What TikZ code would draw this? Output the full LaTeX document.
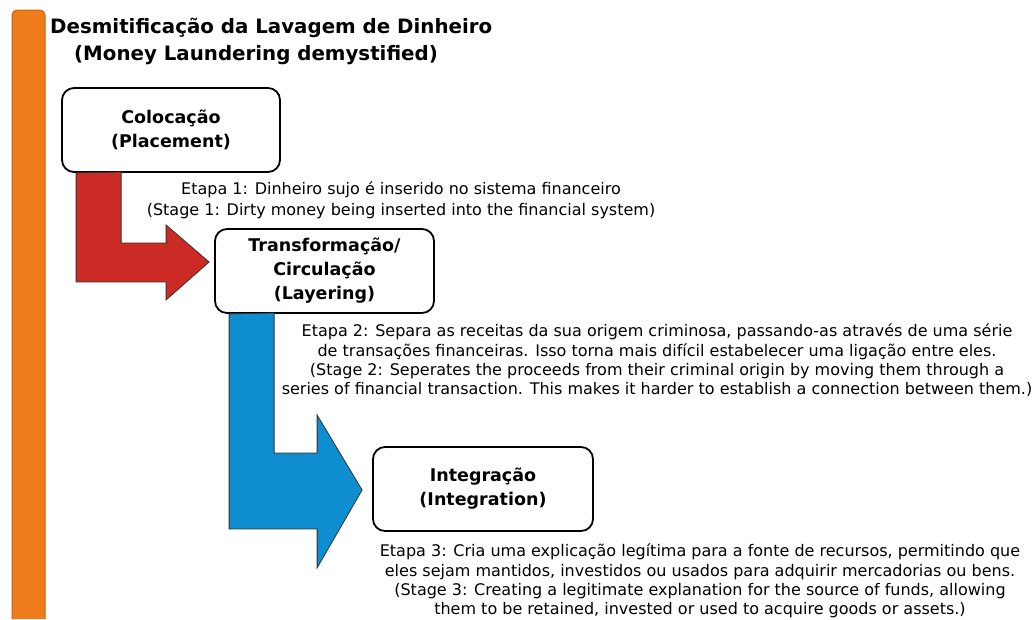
\documentclass[tikz,border=0pt]{standalone}
\usepackage{fontspec}
\setmainfont{DejaVu Sans}
\usetikzlibrary{calc}
\definecolor{barorange}{RGB}{238,124,26}
\definecolor{barline}{RGB}{214,96,10}
\definecolor{arrowred}{RGB}{204,42,36}
\definecolor{arrowblue}{RGB}{14,142,206}

\begin{document}
\begin{tikzpicture}[x=1pt,y=-1pt]
       \tikzstyle{stage} = [rectangle, draw=black, line width=1.8pt, rounded corners=12pt, fill=white, align=center, font=\fontsize{17.5}{24}\selectfont\bfseries];
       \tikzstyle{note} = [align=center, inner sep=0pt, font=\fontsize{16}{19.3}\selectfont];
       \tikzstyle{heading} = [inner sep=0pt, font=\fontsize{19.8}{24}\selectfont\bfseries];
       \tikzstyle{flow} = [draw=black!80, line width=0.8pt, line join=miter];
       \useasboundingbox (0,0) rectangle (1034,619);
       \fill[white] (0,0) rectangle (1034,619);
       % side bar
       \draw[fill=barorange, draw=barline, line width=1pt, rounded corners=5pt] (12,619) -- (12,10) -- (45,10) -- (45,619);

       \node[heading, anchor=west] (title) at (50,28) {Desmitificação da Lavagem de Dinheiro};
       \node[heading] (subtitle) at (256,55) {(Money Laundering demystified)};

       \node[stage, minimum width=218, minimum height=84] (col) at (171,130) {Colocação\\(Placement)};
       \node[stage, minimum width=219, minimum height=84] (lay) at (324.5,271) {Transformação/\\Circulação\\(Layering)};
       \node[stage, minimum width=220, minimum height=84] (int) at (483,489) {Integração\\(Integration)};

       \node[note, font=\fontsize{16}{21}\selectfont] (step1) at (401,200.5) {Etapa 1: Dinheiro sujo é inserido no sistema financeiro\\(Stage 1: Dirty money being inserted into the financial system)};
       \node[note] (step2) at (657,360.5) {Etapa 2: Separa as receitas da sua origem criminosa, passando-as através de uma série\\de transações financeiras. Isso torna mais difícil estabelecer uma ligação entre eles.\\(Stage 2: Seperates the proceeds from their criminal origin by moving them through a\\series of financial transaction. This makes it harder to establish a connection between them.)};
       \node[note] (step3) at (700,581) {Etapa 3: Cria uma explicação legítima para a fonte de recursos, permitindo que\\eles sejam mantidos, investidos ou usados para adquirir mercadorias ou bens.\\(Stage 3: Creating a legitimate explanation for the source of funds, allowing\\them to be retained, invested or used to acquire goods or assets.)};

       \coordinate (tip1) at ($(lay.west)+(-5,-9)$);
       \coordinate (tip2) at ($(int.west)+(-10,1)$);

       \draw[flow, fill=arrowred] ($(col.south west)+(15,0)$) -- ++(0,109) -- ++(90,0) -- ++(0,18) -- (tip1) -- ++(-43,-37) -- ++(0,18) -- ++(-45,0) -- ++(0,-71) -- cycle;
       \draw[flow, fill=arrowblue] ($(lay.south west)+(15,0)$) -- ++(0,215) -- ++(88,0) -- ++(0,39) -- (tip2) -- ++(-45,-75) -- ++(0,38) -- ++(-43,0) -- ++(0,-140) -- cycle;
\end{tikzpicture}
\end{document}
